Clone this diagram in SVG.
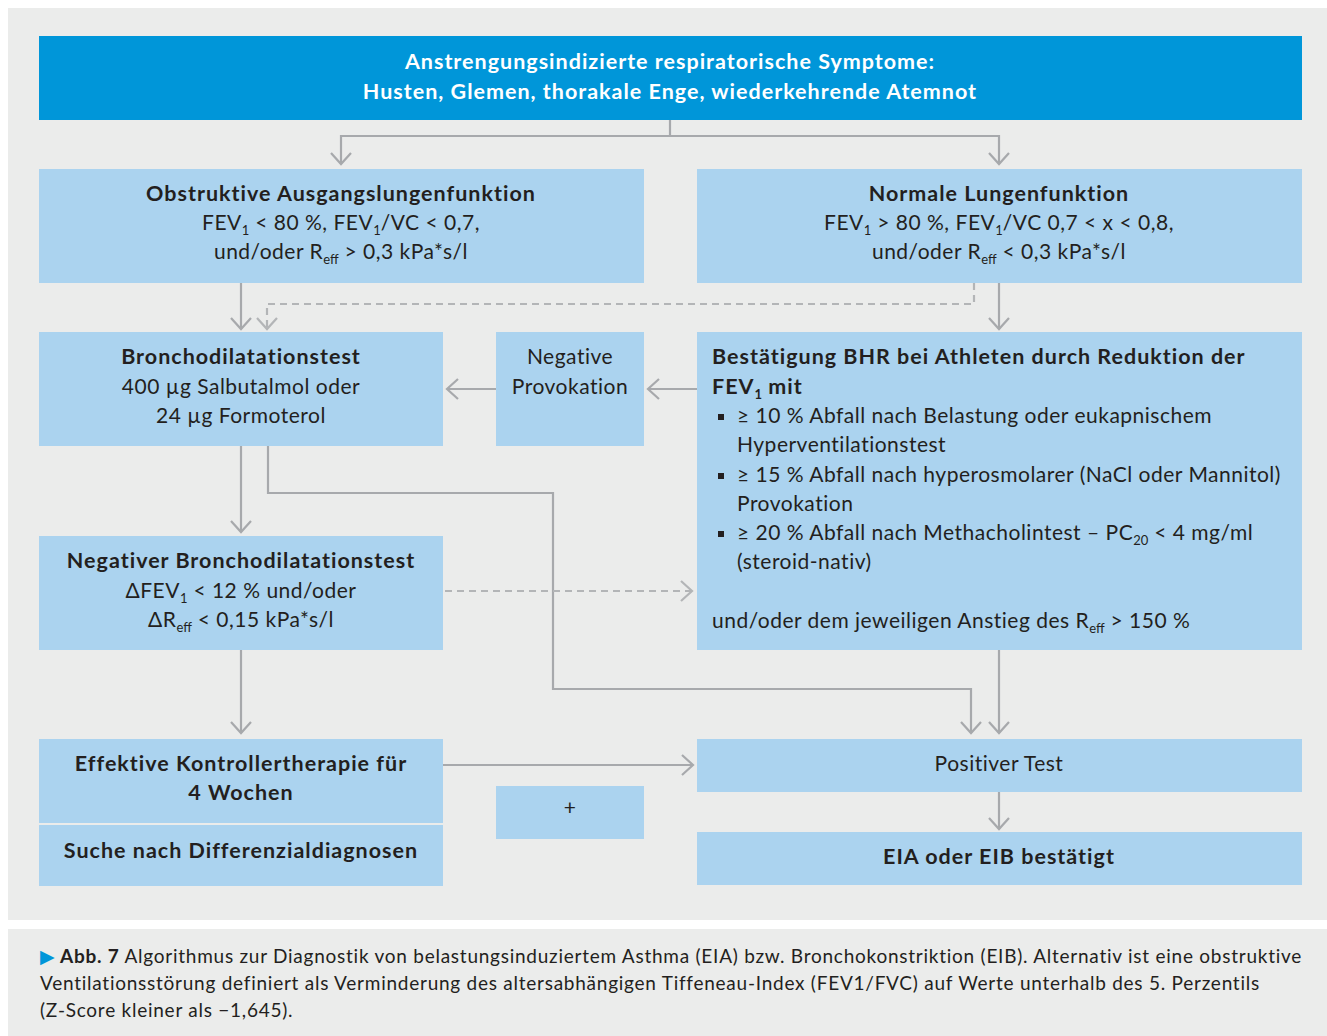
<svg xmlns="http://www.w3.org/2000/svg" width="1327" height="1036" viewBox="0 0 1327 1036">
<defs>
<style>
text{font-family:Lato,"Liberation Sans","DejaVu Sans",sans-serif;fill:#231f20;font-size:21px;letter-spacing:0.5px}
.b{font-weight:bold;font-size:21.5px;letter-spacing:1px}
.c{text-anchor:middle}
.box{fill:#abd3ef}
.w{fill:#ffffff}
.con{fill:none;stroke:#a7a9ac;stroke-width:2.2}
.dash{fill:none;stroke:#b3b5b7;stroke-width:2.2;stroke-dasharray:7 5}
.cap{font-size:19px;letter-spacing:0.75px}
.capb{font-weight:bold}
.s{font-size:13px;letter-spacing:0}
</style>
<marker id="ah" markerUnits="userSpaceOnUse" viewBox="-14 -12 16 24" markerWidth="16" markerHeight="24" refX="0" refY="0" orient="auto">
<path d="M-11,-10 L0,0 L-11,10" fill="none" stroke="#a7a9ac" stroke-width="2.2"/>
</marker>
<marker id="ahd" markerUnits="userSpaceOnUse" viewBox="-14 -12 16 24" markerWidth="16" markerHeight="24" refX="0" refY="0" orient="auto">
<path d="M-11,-10 L0,0 L-11,10" fill="none" stroke="#b3b5b7" stroke-width="2.2"/>
</marker>
</defs>
<rect x="0" y="0" width="1327" height="1036" fill="#ffffff"/>
<rect x="8" y="8" width="1319" height="912" fill="#ebeceb"/>
<rect x="8" y="929" width="1319" height="107" fill="#ebeceb"/>

<g id="connectors">
<path class="con" d="M670,120 V136 H341 V164" marker-end="url(#ah)"/>
<path class="con" d="M670,136 H999 V164" marker-end="url(#ah)"/>
<path class="con" d="M241,283 V329" marker-end="url(#ah)"/>
<path class="dash" d="M974,283 V304 H267 V329" marker-end="url(#ahd)"/>
<path class="con" d="M999,283 V329" marker-end="url(#ah)"/>
<path class="con" d="M697,389 H648" marker-end="url(#ah)"/>
<path class="con" d="M496,389 H447" marker-end="url(#ah)"/>
<path class="con" d="M241,446 V532" marker-end="url(#ah)"/>
<path class="con" d="M268,446 V493 H553 V689 H971 V733" marker-end="url(#ah)"/>
<path class="dash" d="M445,591 H692" marker-end="url(#ahd)"/>
<path class="con" d="M241,650 V733" marker-end="url(#ah)"/>
<path class="con" d="M999,650 V733" marker-end="url(#ah)"/>
<path class="con" d="M443,765 H693" marker-end="url(#ah)"/>
<path class="con" d="M999,792 V829" marker-end="url(#ah)"/>
</g>

<g id="header">
<rect x="39" y="36" width="1263" height="84" fill="#0096d9"/>
<text class="b c w" x="670" y="69">Anstrengungsindizierte respiratorische Symptome:</text>
<text class="b c w" x="670" y="99">Husten, Glemen, thorakale Enge, wiederkehrende Atemnot</text>
</g>

<g id="obstruktiv">
<rect class="box" x="39" y="169" width="605" height="114"/>
<text class="b c" x="341" y="201">Obstruktive Ausgangslungenfunktion</text>
<text class="c" x="341" y="230">FEV<tspan class="s" dy="5">1</tspan><tspan dy="-5"> &lt; 80 %, FEV</tspan><tspan class="s" dy="5">1</tspan><tspan dy="-5">/VC &lt; 0,7,</tspan></text>
<text class="c" x="341" y="259">und/oder R<tspan class="s" dy="5">eff</tspan><tspan dy="-5"> &gt; 0,3 kPa*s/l</tspan></text>
</g>

<g id="normal">
<rect class="box" x="697" y="169" width="605" height="114"/>
<text class="b c" x="999" y="201">Normale Lungenfunktion</text>
<text class="c" x="999" y="230">FEV<tspan class="s" dy="5">1</tspan><tspan dy="-5"> &gt; 80 %, FEV</tspan><tspan class="s" dy="5">1</tspan><tspan dy="-5">/VC 0,7 &lt; x &lt; 0,8,</tspan></text>
<text class="c" x="999" y="259">und/oder R<tspan class="s" dy="5">eff</tspan><tspan dy="-5"> &lt; 0,3 kPa*s/l</tspan></text>
</g>

<g id="broncho">
<rect class="box" x="39" y="332" width="404" height="114"/>
<text class="b c" x="241" y="364">Bronchodilatationstest</text>
<text class="c" x="241" y="394">400 µg Salbutalmol oder</text>
<text class="c" x="241" y="423">24 µg Formoterol</text>
</g>

<g id="negprov">
<rect class="box" x="496" y="332" width="148" height="114"/>
<text class="c" x="570" y="364">Negative</text>
<text class="c" x="570" y="394">Provokation</text>
</g>

<g id="bhr">
<rect class="box" x="697" y="332" width="605" height="318"/>
<text class="b" x="712" y="364">Bestätigung BHR bei Athleten durch Reduktion der</text>
<text class="b" x="712" y="394">FEV<tspan class="s" dy="5">1</tspan><tspan dy="-5"> mit</tspan></text>
<rect x="718" y="414" width="6" height="6" fill="#231f20"/>
<text x="737" y="423">≥ 10 % Abfall nach Belastung oder eukapnischem</text>
<text x="737" y="452">Hyperventilationstest</text>
<rect x="718" y="473" width="6" height="6" fill="#231f20"/>
<text x="737" y="482">≥ 15 % Abfall nach hyperosmolarer (NaCl oder Mannitol)</text>
<text x="737" y="511">Provokation</text>
<rect x="718" y="531" width="6" height="6" fill="#231f20"/>
<text x="737" y="540">≥ 20 % Abfall nach Methacholintest – PC<tspan class="s" dy="5">20</tspan><tspan dy="-5"> &lt; 4 mg/ml</tspan></text>
<text x="737" y="569">(steroid-nativ)</text>
<text x="712" y="628">und/oder dem jeweiligen Anstieg des R<tspan class="s" dy="5">eff</tspan><tspan dy="-5"> &gt; 150 %</tspan></text>
</g>

<g id="negativer">
<rect class="box" x="39" y="536" width="404" height="114"/>
<text class="b c" x="241" y="568">Negativer Bronchodilatationstest</text>
<text class="c" x="241" y="598">ΔFEV<tspan class="s" dy="5">1</tspan><tspan dy="-5"> &lt; 12 % und/oder</tspan></text>
<text class="c" x="241" y="627">ΔR<tspan class="s" dy="5">eff</tspan><tspan dy="-5"> &lt; 0,15 kPa*s/l</tspan></text>
</g>

<g id="effektiv">
<rect class="box" x="39" y="739" width="404" height="84"/>
<text class="b c" x="241" y="771">Effektive Kontrollertherapie für</text>
<text class="b c" x="241" y="800">4 Wochen</text>
</g>

<g id="suche">
<rect class="box" x="39" y="825" width="404" height="61"/>
<text class="b c" x="241" y="858">Suche nach Differenzialdiagnosen</text>
</g>

<g id="plus">
<rect class="box" x="496" y="786" width="148" height="53"/>
<text class="c" x="570" y="815" font-size="15">+</text>
</g>

<g id="positiv">
<rect class="box" x="697" y="739" width="605" height="53"/>
<text class="c" x="999" y="771">Positiver Test</text>
</g>

<g id="eia">
<rect class="box" x="697" y="832" width="605" height="53"/>
<text class="b c" x="999" y="864">EIA oder EIB bestätigt</text>
</g>

<g id="caption">
<text class="cap" x="40" y="963"><tspan fill="#0096d9">▶</tspan><tspan class="capb"> Abb. 7</tspan>  Algorithmus zur Diagnostik von belastungsinduziertem Asthma (EIA) bzw. Bronchokonstriktion (EIB). Alternativ ist eine obstruktive</text>
<text class="cap" x="40" y="990">Ventilationsstörung definiert als Verminderung des altersabhängigen Tiffeneau-Index (FEV1/FVC) auf Werte unterhalb des 5. Perzentils</text>
<text class="cap" x="40" y="1017">(Z-Score kleiner als −1,645).</text>
</g>
</svg>
